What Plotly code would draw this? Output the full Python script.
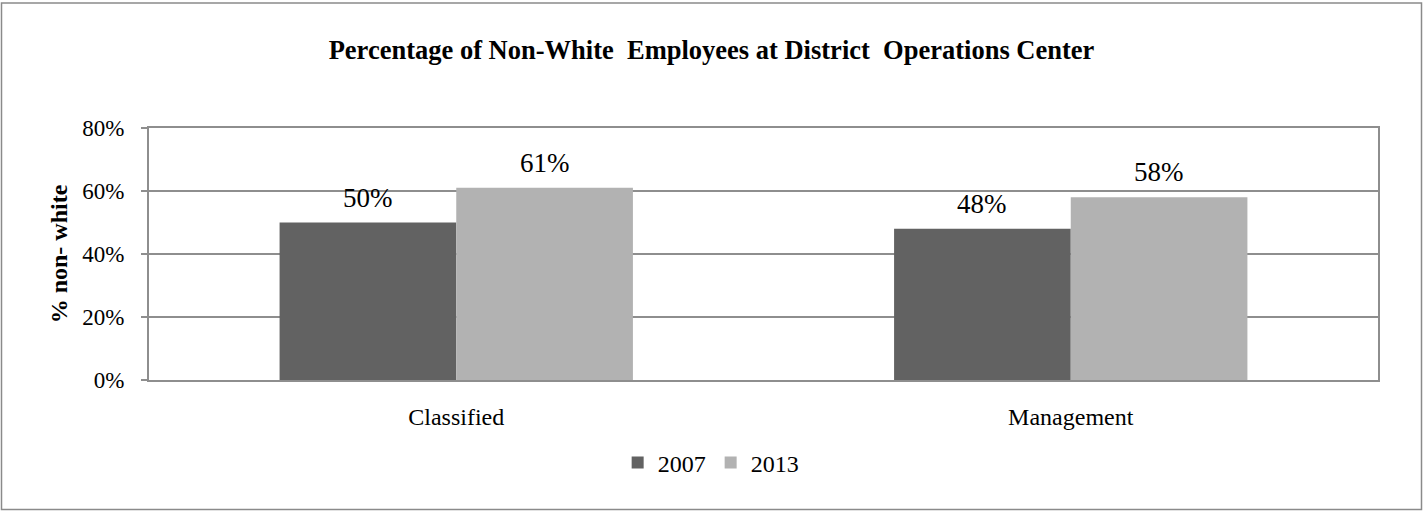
import plotly.graph_objects as go

categories = ["Classified", "Management"]
series_names = ["2007", "2013"]
values_2007 = [0.50, 0.48]
values_2013 = [0.61, 0.58]
labels_2007 = ["50%", "48%"]
labels_2013 = ["61%", "58%"]
y_ticks = [0, 0.2, 0.4, 0.6, 0.8]
y_tick_labels = ["0%", "20%", "40%", "60%", "80%"]

W, H = 1423, 511
L, R, T, B = 149, 45, 128, 131
FONT = "Liberation Serif, Times New Roman, serif"
BARGAP = 0.425

fig = go.Figure()
fig.add_trace(go.Bar(x=categories, y=values_2007, name=series_names[0],
                     marker=dict(color="#626262", line=dict(width=0))))
fig.add_trace(go.Bar(x=categories, y=values_2013, name=series_names[1],
                     marker=dict(color="#b2b2b2", line=dict(width=0))))

# value labels above each bar (grouped positions from bargap)
half = (1 - BARGAP) / 4
annotations = []
for i, cat in enumerate(categories):
    for vals, labs, sign in ((values_2007, labels_2007, -1), (values_2013, labels_2013, 1)):
        annotations.append(dict(x=i + sign * half, y=vals[i], xref="x", yref="y",
                                text=labs[i], showarrow=False, yanchor="bottom",
                                yshift=8, font=dict(size=27, family=FONT, color="#000")))

pw = W - L - R
ph = H - T - B
x0 = (1.5 - L) / pw
x1 = (W - 1.5 - L) / pw
y0 = -(H - 1.5 - T - ph) / ph
y1 = 1 + (T - 3) / ph

fig.update_layout(
    width=W, height=H,
    margin=dict(l=L, r=R, t=T, b=B),
    paper_bgcolor="white", plot_bgcolor="white",
    barmode="group", bargap=BARGAP, bargroupgap=0,
    font=dict(family=FONT, color="#000"),
    title=dict(text="<b>Percentage of Non-White  Employees at District  Operations Center</b>",
               x=0.5, xanchor="center", y=1 - 50 / H, yanchor="middle",
               font=dict(size=26.5, family=FONT, color="#000")),
    xaxis=dict(showline=True, linecolor="#8e8e8e", linewidth=2, mirror=True,
               ticks="", ticklabelstandoff=14,
               tickfont=dict(size=24, family=FONT), showgrid=False),
    yaxis=dict(range=[0, 0.8], tickvals=y_ticks, ticktext=y_tick_labels,
               showgrid=True, gridcolor="#8e8e8e", gridwidth=1.5,
               showline=True, linecolor="#8e8e8e", linewidth=2, mirror=True,
               ticks="outside", ticklen=6, tickcolor="#8e8e8e", tickwidth=1.5,
               ticklabelstandoff=12,
               tickfont=dict(size=23, family=FONT), zeroline=False,
               title=dict(text="<b>% non- white</b>", font=dict(size=24, family=FONT), standoff=8)),
    legend=dict(orientation="h", x=0.457, xanchor="center", y=-0.24, yanchor="top",
                font=dict(size=24, family=FONT), traceorder="normal",
                itemwidth=30, tracegroupgap=0),
    annotations=annotations,
    shapes=[dict(type="rect", xref="paper", yref="paper",
                 x0=x0, x1=x1, y0=y0, y1=y1,
                 line=dict(color="#8a8a8a", width=1.5), fillcolor="rgba(0,0,0,0)", layer="below")],
)

fig.write_html("out.html", config={"displayModeBar": False},
               post_script="document.body.style.margin='0';document.body.style.overflow='hidden';")
